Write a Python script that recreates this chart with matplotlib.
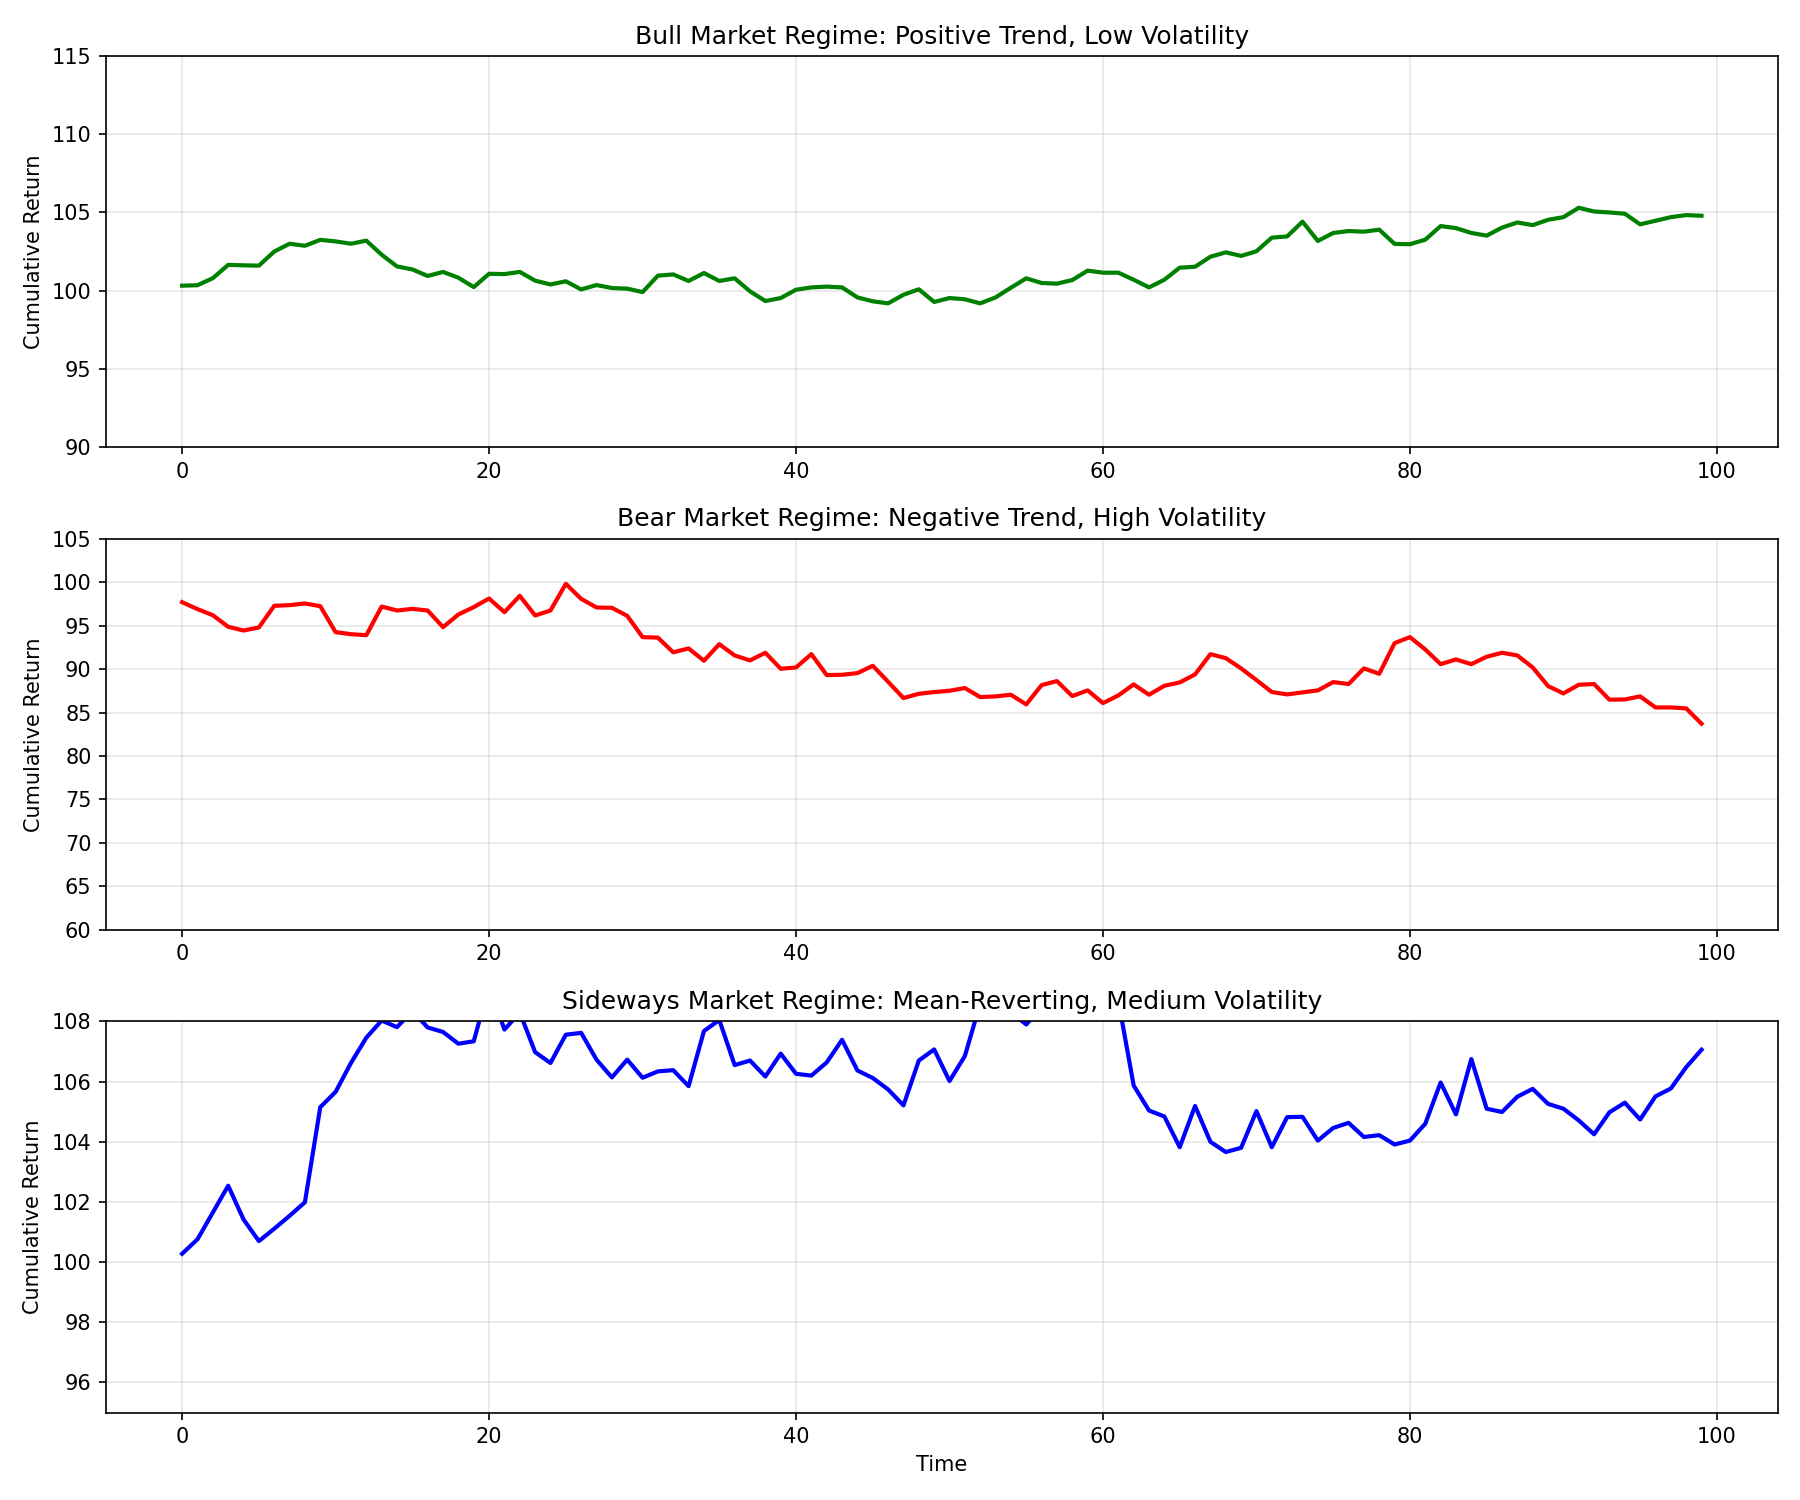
from matplotlib import pyplot as plt
import numpy as np

# valores
time = np.arange(100)

bull = [100.32, 100.35, 100.8, 101.65, 101.62, 101.6, 102.5, 103.0, 102.87, 103.25,
        103.15, 103.0, 103.2, 102.3, 101.55, 101.36, 100.94, 101.2, 100.83, 100.23,
        101.08, 101.06, 101.2, 100.64, 100.4, 100.6, 100.08, 100.36, 100.17, 100.13,
        99.91, 100.96, 101.04, 100.62, 101.13, 100.62, 100.79, 99.96, 99.34, 99.53,
        100.06, 100.21, 100.26, 100.21, 99.57, 99.32, 99.19, 99.74, 100.09, 99.28,
        99.53, 99.45, 99.19, 99.57, 100.19, 100.79, 100.49, 100.45, 100.68, 101.28,
        101.15, 101.15, 100.7, 100.21, 100.7, 101.47, 101.53, 102.17, 102.45, 102.22,
        102.52, 103.39, 103.47, 104.41, 103.18, 103.69, 103.81, 103.77, 103.9, 102.99,
        102.97, 103.26, 104.13, 104.0, 103.69, 103.52, 104.03, 104.36, 104.19, 104.53,
        104.7, 105.3, 105.06, 105.0, 104.92, 104.24, 104.47, 104.7, 104.83, 104.79]

bear = [97.7, 96.9, 96.2, 94.87, 94.44, 94.79, 97.28, 97.36, 97.55, 97.24,
        94.25, 94.02, 93.9, 97.2, 96.74, 96.93, 96.74, 94.83, 96.28, 97.13,
        98.12, 96.55, 98.43, 96.17, 96.74, 99.81, 98.08, 97.09, 97.05, 96.13,
        93.68, 93.62, 91.93, 92.38, 90.96, 92.87, 91.57, 91.0, 91.88, 90.04,
        90.19, 91.72, 89.31, 89.35, 89.54, 90.38, 88.54, 86.67, 87.16, 87.36,
        87.51, 87.82, 86.78, 86.86, 87.05, 85.94, 88.16, 88.62, 86.9, 87.55,
        86.09, 86.97, 88.24, 87.05, 88.08, 88.47, 89.39, 91.72, 91.26, 90.08,
        88.74, 87.36, 87.09, 87.32, 87.55, 88.51, 88.28, 90.08, 89.46, 92.99,
        93.68, 92.26, 90.57, 91.11, 90.57, 91.42, 91.88, 91.57, 90.19, 88.05,
        87.2, 88.2, 88.28, 86.48, 86.51, 86.86, 85.59, 85.59, 85.48, 83.72]

sideways = [100.28, 100.76, 101.65, 102.54, 101.42, 100.7, 101.11, 101.54, 101.99, 105.15,
            105.66, 106.62, 107.46, 108.03, 107.81, 108.35, 107.8, 107.65, 107.26, 107.34,
            109.2, 107.73, 108.3, 106.98, 106.62, 107.56, 107.62, 106.73, 106.14, 106.73,
            106.13, 106.34, 106.38, 105.85, 107.68, 108.05, 106.55, 106.7, 106.17, 106.93,
            106.26, 106.2, 106.64, 107.39, 106.37, 106.12, 105.74, 105.21, 106.7, 107.07,
            106.02, 106.85, 108.6, 109.2, 108.3, 107.9, 108.5, 109.0, 109.3, 108.9,
            109.5, 108.7, 105.87, 105.04, 104.84, 103.82, 105.19, 104.0, 103.66, 103.8,
            105.02, 103.82, 104.82, 104.83, 104.04, 104.46, 104.63, 104.16, 104.22, 103.91,
            104.04, 104.6, 105.97, 104.91, 106.75, 105.1, 104.99, 105.5, 105.76, 105.26,
            105.1, 104.71, 104.25, 104.98, 105.3, 104.74, 105.51, 105.77, 106.48, 107.06]

titles = ['Bull Market Regime: Positive Trend, Low Volatility',
          'Bear Market Regime: Negative Trend, High Volatility',
          'Sideways Market Regime: Mean-Reverting, Medium Volatility']
series = [bull, bear, sideways]
colors = ['green', 'red', 'blue']
ylims = [(90, 115), (60, 105), (95, 108)]

if __name__ == '__main__':
    fig, axes = plt.subplots(3, 1, figsize=(12, 10))
    for ax, y, c, t, lim in zip(axes, series, colors, titles, ylims):
        ax.plot(time, y, color=c, linewidth=2)
        ax.set_title(t)
        ax.set_ylabel('Cumulative Return')
        ax.set_ylim(lim)
        ax.grid(True, alpha=0.3)
    axes[-1].set_xlabel('Time')
    plt.tight_layout()
    plt.savefig('out.png', dpi=150)
